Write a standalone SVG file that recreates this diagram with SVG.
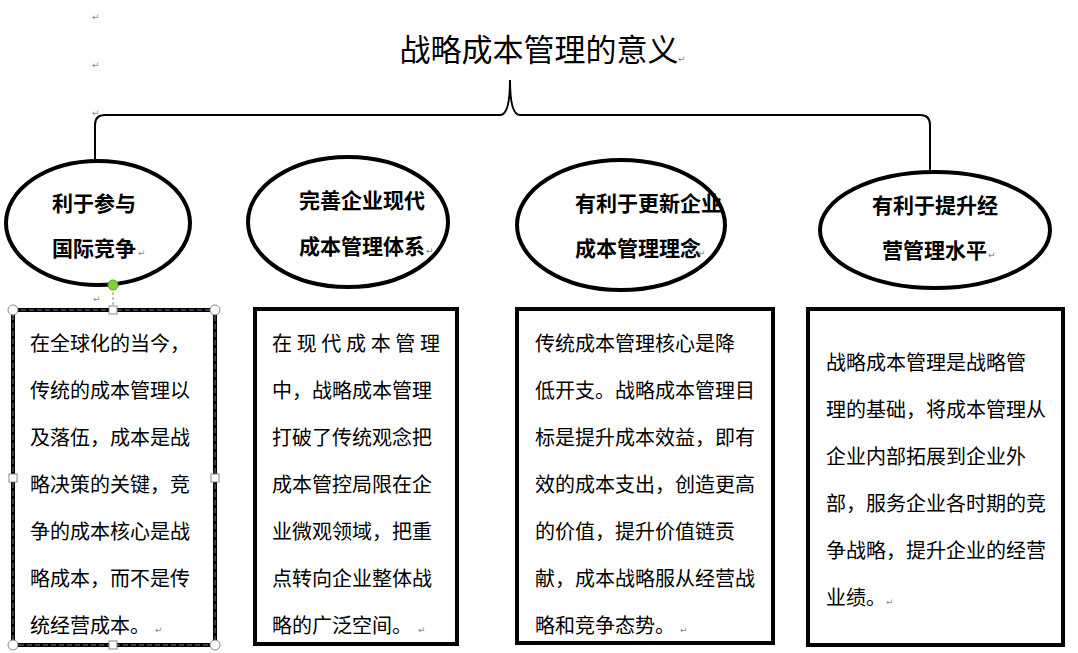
<svg xmlns="http://www.w3.org/2000/svg" width="1078" height="653" viewBox="0 0 1078 653">
<style>
.e{fill:#fff;stroke:#000;stroke-width:4}
.b{fill:#fff;stroke:#000;stroke-width:4}
.h{font-family:"Noto Sans CJK SC",sans-serif;font-size:21px;font-weight:bold;fill:#000}
.t{font-family:"Noto Sans CJK SC",sans-serif;font-size:20px;fill:#000}
.m{font-family:"DejaVu Sans",sans-serif;font-size:9px;fill:#888}
.hd{fill:#fff;stroke:#888;stroke-width:1}
</style>
<rect width="1078" height="653" fill="#fff"/>
<g id="title">
<text x="539" y="61" text-anchor="middle" font-family="Noto Sans CJK SC,sans-serif" font-size="31">战略成本管理的意义</text>
<text class="m" x="678" y="62">↵</text>
<text class="m" x="92" y="20">↵</text><text class="m" x="92" y="68">↵</text><text class="m" x="92" y="116">↵</text>
</g>
<g id="connectors" fill="none" stroke="#000" stroke-width="2">
<path d="M95,160 V125 Q95,115 105,115 H500 Q510,115 510,80 Q510,115 520,115 H920 Q930,115 930,125 V175"/>
</g>
<g id="n1"><ellipse class="e" cx="98" cy="223" rx="92" ry="62"/>
<text class="h" x="52" y="211">利于参与</text><text class="h" x="52" y="256">国际竞争</text><text class="m" x="138" y="256">↵</text></g>
<g id="n2"><ellipse class="e" cx="348" cy="222" rx="100" ry="65"/>
<text class="h" x="299" y="208">完善企业现代</text><text class="h" x="299" y="254">成本管理体系</text><text class="m" x="426" y="254">↵</text></g>
<g id="n3"><ellipse class="e" cx="621" cy="225" rx="104" ry="65"/>
<text class="h" x="575" y="211" font-size="20">有利于更新企业</text><text class="h" x="575" y="256" font-size="20">成本管理理念</text><text class="m" x="698" y="256">↵</text></g>
<g id="n4"><ellipse class="e" cx="935" cy="230" rx="115" ry="58"/>
<text class="h" x="872" y="213">有利于提升经</text><text class="h" x="882" y="258">营管理水平</text><text class="m" x="988" y="258">↵</text></g>
<g id="b1"><rect class="b" x="13" y="310" width="202" height="335"/>
<rect x="13" y="310" width="202" height="335" fill="none" stroke="#5a7fa8" stroke-width="1" stroke-dasharray="5,3"/>
<line x1="113" y1="287" x2="113" y2="310" stroke="#888" stroke-dasharray="3,2"/>
<circle cx="113" cy="285" r="5" fill="#7fd13b" stroke="#5a9a2a"/>
<circle class="hd" cx="13" cy="310" r="5"/><circle class="hd" cx="215" cy="310" r="5"/><circle class="hd" cx="13" cy="645" r="5"/><circle class="hd" cx="215" cy="645" r="5"/>
<rect class="hd" x="109" y="306" width="8" height="8"/><rect class="hd" x="109" y="641" width="8" height="8"/><rect class="hd" x="9" y="474" width="8" height="8"/><rect class="hd" x="211" y="474" width="8" height="8"/>
<text class="m" x="93" y="302">↵</text>
<g class="t"><text x="30" y="351">在全球化的当今，</text><text x="30" y="398">传统的成本管理以</text><text x="30" y="445">及落伍，成本是战</text><text x="30" y="492">略决策的关键，竞</text><text x="30" y="539">争的成本核心是战</text><text x="30" y="586">略成本，而不是传</text><text x="30" y="633">统经营成本。</text></g><text class="m" x="155" y="633">↵</text></g>
<g id="b2"><rect class="b" x="255" y="309" width="202" height="335"/>
<g class="t"><text x="272" y="351" textLength="168" lengthAdjust="spacing">在现代成本管理</text><text x="272" y="398">中，战略成本管理</text><text x="272" y="445">打破了传统观念把</text><text x="272" y="492">成本管控局限在企</text><text x="272" y="539">业微观领域，把重</text><text x="272" y="586">点转向企业整体战</text><text x="272" y="633">略的广泛空间。</text></g><text class="m" x="418" y="633">↵</text></g>
<g id="b3"><rect class="b" x="517" y="309" width="256" height="334"/>
<g class="t"><text x="535" y="351">传统成本管理核心是降</text><text x="535" y="398">低开支。战略成本管理目</text><text x="535" y="445">标是提升成本效益，即有</text><text x="535" y="492">效的成本支出，创造更高</text><text x="535" y="539">的价值，提升价值链贡</text><text x="535" y="586">献，成本战略服从经营战</text><text x="535" y="633">略和竞争态势。</text></g><text class="m" x="680" y="633">↵</text></g>
<g id="b4"><rect class="b" x="808" y="309" width="255" height="336"/>
<g class="t"><text x="826" y="370">战略成本管理是战略管</text><text x="826" y="417">理的基础，将成本管理从</text><text x="826" y="464">企业内部拓展到企业外</text><text x="826" y="511">部，服务企业各时期的竞</text><text x="826" y="558">争战略，提升企业的经营</text><text x="826" y="605">业绩。</text></g><text class="m" x="886" y="605">↵</text></g>
</svg>
